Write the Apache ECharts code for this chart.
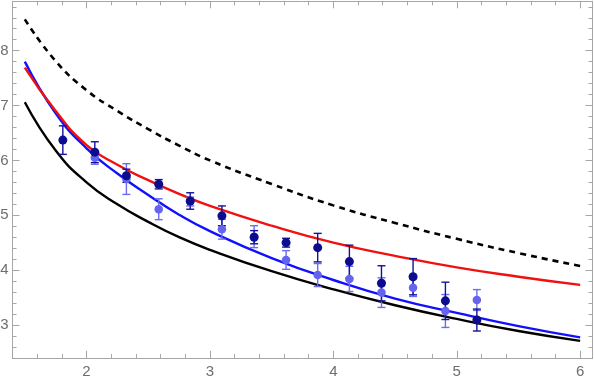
<!DOCTYPE html>
<html>
<head>
<meta charset="utf-8">
<script src="https://cdn.jsdelivr.net/npm/echarts@6/dist/echarts.min.js"></script>
<style>html,body{margin:0;padding:0;background:#fff}#c{width:594px;height:383px}</style>
</head>
<body>
<div id="c"></div>
<script>
// ---- data ----
const xTickLabels = [2, 3, 4, 5, 6];
const yTickLabels = [3, 4, 5, 6, 7, 8];

const xCurve  = [1.5, 1.75, 2, 2.25, 2.5, 2.75, 3, 3.5, 4, 4.5, 5, 5.5, 6];
const dashedY = [8.57, 7.81, 7.28, 6.90, 6.57, 6.27, 6.00, 5.57, 5.18, 4.86, 4.57, 4.31, 4.075];
const redY    = [7.69, 6.90, 6.28, 5.92, 5.64, 5.39, 5.17, 4.81, 4.50, 4.26, 4.05, 3.88, 3.73];
const blueY   = [7.80, 6.86, 6.22, 5.76, 5.37, 5.01, 4.71, 4.22, 3.82, 3.48, 3.22, 2.98, 2.775];
const blackY  = [7.06, 6.18, 5.60, 5.20, 4.88, 4.60, 4.37, 3.98, 3.65, 3.36, 3.11, 2.89, 2.71];

const xPts   = [1.808, 2.067, 2.323, 2.585, 2.84, 3.097, 3.358, 3.617, 3.873, 4.13, 4.39, 4.646, 4.908, 5.163];
const darkY  = [6.37, 6.15, 5.72, 5.565, 5.26, 4.99, 4.60, 4.50, 4.41, 4.155, 3.76, 3.88, 3.44, 3.09];
const darkE  = [0.26, 0.19, 0.12, 0.085, 0.15, 0.18, 0.12, 0.08, 0.26, 0.30, 0.32, 0.33, 0.34, 0.20];
const lightY = [null, 6.05, 5.66, 5.11, 5.25, 4.745, 4.61, 4.185, 3.91, 3.84, 3.59, 3.68, 3.255, 3.455];
const lightE = [null, 0.12, 0.28, 0.19, 0.08, 0.18, 0.20, 0.17, 0.21, 0.23, 0.27, 0.16, 0.30, 0.19];

// ---- chart ----
const FRAME = '#a6a6a6';
const LABEL = '#6e6e6e';
const X_MIN = 1.4, X_MAX = 6.1, Y_MIN = 2.4, Y_MAX = 8.9;

function isLabel(list, v) { return list.some(t => Math.abs(t - v) < 1e-6); }

function minorAxis(kind, pos) {
  const isX = kind === 'x';
  const labels = isX ? xTickLabels : yTickLabels;
  const showLab = (pos === 'bottom' || pos === 'left');
  return {
    type: 'value', position: pos,
    min: isX ? X_MIN : Y_MIN, max: isX ? X_MAX : Y_MAX, interval: 0.2,
    axisLine: { show: true, onZero: false, lineStyle: { color: FRAME, width: 1 } },
    axisTick: { show: true, inside: true, length: 4, lineStyle: { color: FRAME, width: 1 } },
    axisLabel: {
      show: showLab, color: LABEL, fontSize: 15, fontFamily: 'Liberation Sans, Arial, sans-serif',
      margin: isX ? 6 : 4,
      formatter: v => isLabel(labels, v) ? String(Math.round(v)) : ''
    },
    splitLine: { show: false }
  };
}
function majorAxis(kind, pos) {
  const isX = kind === 'x';
  return {
    type: 'value', position: pos,
    min: isX ? X_MIN : Y_MIN, max: isX ? X_MAX : Y_MAX, splitNumber: 5,
    axisLine: { show: false, onZero: false },
    axisTick: { show: true, inside: true, length: 7, lineStyle: { color: FRAME, width: 1 } },
    axisLabel: { show: false },
    splitLine: { show: false }
  };
}

function curve(ys, color, dashed) {
  return {
    type: 'line', xAxisIndex: 0, yAxisIndex: 0,
    data: xCurve.map((x, i) => [x, ys[i]]),
    smooth: 0.5, symbol: 'none', silent: true,
    lineStyle: { color: color, width: dashed ? 2.6 : 2.4, type: dashed ? [6, 5] : 'solid' },
    z: 2
  };
}

function errBars(ys, es, color) {
  const data = [];
  xPts.forEach((x, i) => { if (ys[i] != null) data.push([x, ys[i], es[i]]); });
  return {
    type: 'custom', xAxisIndex: 0, yAxisIndex: 0, silent: true, z: 3,
    data: data,
    renderItem: function (params, api) {
      const x = api.value(0), y = api.value(1), e = api.value(2);
      const t = api.coord([x, y + e]), b = api.coord([x, y - e]);
      const w = 4;
      const st = { stroke: color, lineWidth: 1.4 };
      return { type: 'group', children: [
        { type: 'line', shape: { x1: t[0], y1: t[1], x2: b[0], y2: b[1] }, style: st },
        { type: 'line', shape: { x1: t[0] - w, y1: t[1], x2: t[0] + w, y2: t[1] }, style: st },
        { type: 'line', shape: { x1: b[0] - w, y1: b[1], x2: b[0] + w, y2: b[1] }, style: st }
      ]};
    }
  };
}

function points(ys, color, size) {
  const data = [];
  xPts.forEach((x, i) => { if (ys[i] != null) data.push([x, ys[i]]); });
  return {
    type: 'scatter', xAxisIndex: 0, yAxisIndex: 0, silent: true, z: 4,
    data: data, symbol: 'circle', symbolSize: size,
    itemStyle: { color: color, opacity: 1 }
  };
}

const chart = echarts.init(document.getElementById('c'), null, { renderer: 'canvas' });
chart.setOption({
  animation: false,
  backgroundColor: '#ffffff',
  grid: { left: 12.5, right: 1.5, top: 1.3, bottom: 25.1, containLabel: false, outerBoundsMode: 'none' },
  xAxis: [minorAxis('x', 'bottom'), majorAxis('x', 'bottom'), minorAxis('x', 'top'), majorAxis('x', 'top')],
  yAxis: [minorAxis('y', 'left'), majorAxis('y', 'left'), minorAxis('y', 'right'), majorAxis('y', 'right')],
  series: [
    curve(dashedY, '#000000', true),
    curve(blackY, '#000000', false),
    curve(blueY, '#1010ff', false),
    curve(redY, '#f01010', false),
    errBars(lightY, lightE, '#6c6cf2'),
    points(lightY, '#6464ee', 8.5),
    errBars(darkY, darkE, '#12129a'),
    points(darkY, '#0c0c8e', 9)
  ]
});
</script>
</body>
</html>
